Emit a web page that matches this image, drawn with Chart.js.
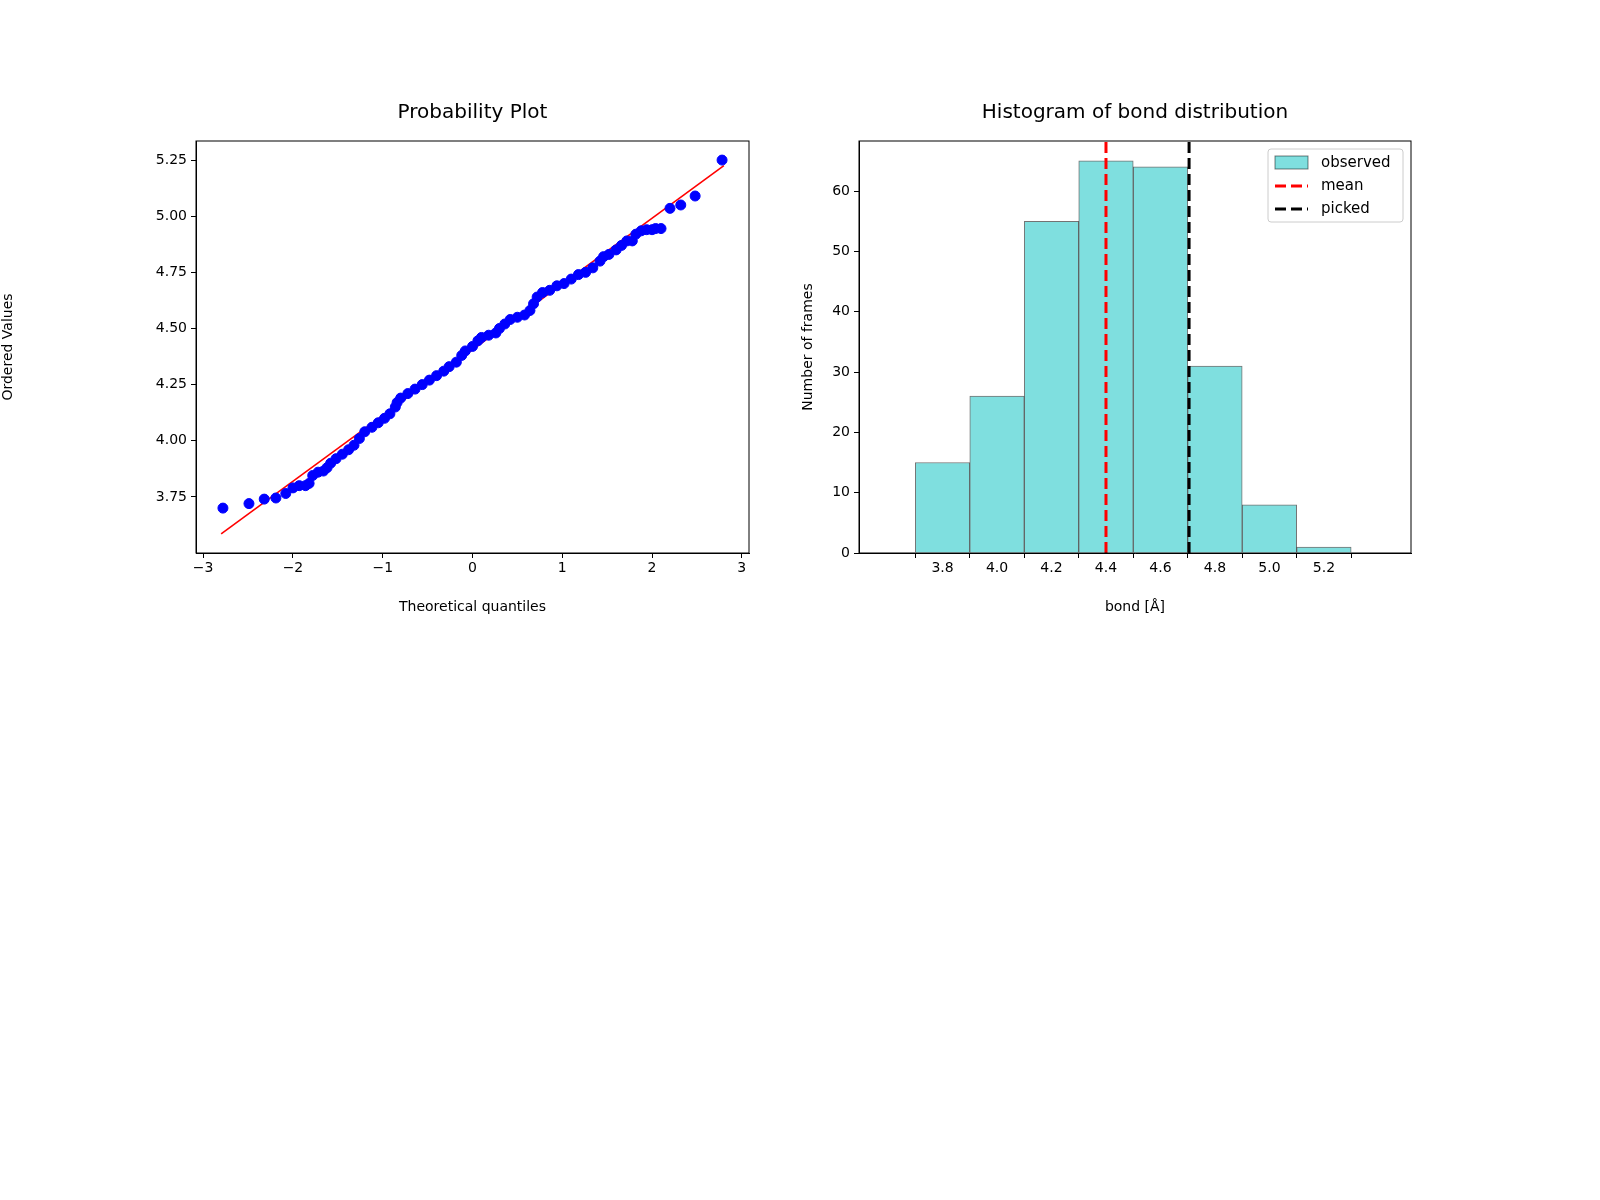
<!DOCTYPE html>
<html>
<head>
<meta charset="utf-8">
<script src="https://cdn.jsdelivr.net/npm/chart.js@4"></script>
<style>
  body { margin: 0; background: #fff; font-family: "DejaVu Sans", sans-serif; }
  .box { position: absolute; top: 0; height: 620px; }
  .ttl { position: absolute; top: 99px; font-size: 20px; color: #000; text-align: center; }
</style>
</head>
<body>
<div class="box" style="left:0;width:800px"><canvas id="qq"></canvas></div>
<div class="box" style="left:800px;width:800px"><canvas id="hist"></canvas></div>
<div class="ttl" style="left:196px;width:553px">Probability Plot</div>
<div class="ttl" style="left:859px;width:552px">Histogram of bond distribution</div>
<script>
// probability plot points: theoretical quantile / ordered value
const qqX = [-2.78,-2.49,-2.32,-2.19,-2.08,-2.0,-1.93,-1.86,-1.82,-1.78,-1.72,-1.66,-1.62,-1.58,-1.52,-1.45,-1.38,-1.32,-1.26,-1.2,-1.12,-1.05,-0.98,-0.92,-0.86,-0.84,-0.8,-0.72,-0.64,-0.56,-0.48,-0.4,-0.32,-0.26,-0.18,-0.12,-0.08,0.0,0.06,0.1,0.18,0.26,0.3,0.36,0.42,0.5,0.58,0.64,0.68,0.72,0.78,0.86,0.94,1.02,1.1,1.18,1.26,1.34,1.42,1.46,1.52,1.6,1.66,1.72,1.78,1.82,1.88,1.94,2.0,2.04,2.1,2.2,2.32,2.48,2.78];
const qqY = [3.70,3.72,3.74,3.745,3.765,3.79,3.80,3.80,3.81,3.845,3.86,3.865,3.88,3.90,3.92,3.94,3.96,3.98,4.01,4.04,4.06,4.08,4.10,4.12,4.15,4.17,4.19,4.21,4.23,4.25,4.27,4.29,4.31,4.33,4.35,4.38,4.40,4.42,4.445,4.46,4.47,4.48,4.50,4.52,4.54,4.55,4.56,4.58,4.61,4.64,4.66,4.67,4.69,4.70,4.72,4.74,4.75,4.77,4.80,4.82,4.83,4.85,4.87,4.89,4.89,4.92,4.935,4.94,4.94,4.945,4.945,5.035,5.05,5.09,5.25];
const fitX = [-2.8, 2.8];
const fitY = [3.585, 5.225];
const qqXTicks = [-3,-2,-1,0,1,2,3];
const qqYTicks = [3.75,4.00,4.25,4.50,4.75,5.00,5.25];

// histogram bins
const binCenters = [3.8,4.0,4.2,4.4,4.6,4.8,5.0,5.2];
const binCounts = [15,26,55,65,64,31,8,1];
const meanBond = 4.40;
const pickedBond = 4.705;
const histXTicks = [3.8,4.0,4.2,4.4,4.6,4.8,5.0,5.2];
const histYTicks = [0,10,20,30,40,50,60];

Chart.defaults.font.family = '"DejaVu Sans", sans-serif';
Chart.defaults.font.size = 14;
Chart.defaults.color = '#000';

const frame = {
    id: 'frame',
    afterDatasetsDraw(chart) {
        const a = chart.chartArea, c = chart.ctx;
        c.save();
        c.strokeStyle = '#000';
        c.lineWidth = 1;
        c.strokeRect(a.left, a.top, a.right - a.left, a.bottom - a.top);
        c.restore();
    }
};

function axes(xmin, xmax, ymin, ymax, xt, yt, xTitle, yTitle, xfmt, yfmt, leftW) {
    const grid = { drawOnChartArea: false, tickLength: 5, color: '#000' };
    return {
        x: {
            type: 'linear', min: xmin, max: xmax,
            grid: grid, border: { color: '#000' },
            afterBuildTicks: ax => { ax.ticks = xt.map(v => ({ value: v })); },
            ticks: { callback: xfmt, maxRotation: 0, padding: 2 },
            title: { display: true, text: xTitle, padding: { top: 0 } },
            afterFit: ax => { ax.height = 67; }
        },
        y: {
            type: 'linear', min: ymin, max: ymax,
            grid: grid, border: { color: '#000' },
            afterBuildTicks: ax => { ax.ticks = yt.map(v => ({ value: v })); },
            ticks: { callback: yfmt, padding: 4 },
            title: { display: true, text: yTitle, padding: 0 },
            afterFit: ax => { ax.width = leftW; }
        }
    };
}

const minus = v => String(v).replace('-', '\u2212');

new Chart(document.getElementById('qq'), {
    type: 'scatter',
    data: {
        datasets: [{
            data: qqX.map((x, i) => ({ x: x, y: qqY[i] })),
            backgroundColor: '#0000ff', borderColor: '#0000ff',
            pointRadius: 5, pointHoverRadius: 5
        }, {
            type: 'line',
            data: fitX.map((x, i) => ({ x: x, y: fitY[i] })),
            borderColor: '#ff0000', borderWidth: 1.6, pointRadius: 0, fill: false
        }]
    },
    options: {
        responsive: true, maintainAspectRatio: false, animation: false,
        layout: { padding: { left: 0, top: 141, right: 51, bottom: 0 } },
        plugins: { legend: { display: false }, tooltip: { enabled: false } },
        scales: axes(-3.08, 3.08, 3.50, 5.335, qqXTicks, qqYTicks,
            'Theoretical quantiles', 'Ordered Values', minus, v => v.toFixed(2), 196)
    },
    plugins: [frame]
});

const histLegend = {
    id: 'histLegend',
    afterDraw(chart) {
        const a = chart.chartArea, c = chart.ctx;
        const x0 = a.right - 143, y0 = a.top + 8, w = 135, h = 73;
        c.save();
        c.fillStyle = 'rgba(255,255,255,0.8)';
        c.strokeStyle = '#cccccc';
        c.lineWidth = 1;
        c.beginPath();
        c.roundRect(x0, y0, w, h, 3);
        c.fill(); c.stroke();
        c.fillStyle = '#7fdfdf';
        c.strokeStyle = 'rgba(0,0,0,0.5)';
        c.fillRect(x0 + 7, y0 + 7, 33, 13);
        c.strokeRect(x0 + 7, y0 + 7, 33, 13);
        c.lineWidth = 3;
        c.setLineDash([11, 5]);
        [['#ff0000', 37], ['#000000', 60]].forEach(([col, dy]) => {
            c.strokeStyle = col;
            c.beginPath();
            c.moveTo(x0 + 7, y0 + dy);
            c.lineTo(x0 + 40, y0 + dy);
            c.stroke();
        });
        c.fillStyle = '#000';
        c.font = '15px "DejaVu Sans", sans-serif';
        c.textBaseline = 'middle';
        c.fillText('observed', x0 + 53, y0 + 14);
        c.fillText('mean', x0 + 53, y0 + 37);
        c.fillText('picked', x0 + 53, y0 + 60);
        c.restore();
    }
};

const histTop = 68.3;
new Chart(document.getElementById('hist'), {
    type: 'bar',
    data: {
        datasets: [{
            data: binCenters.map((x, i) => ({ x: x, y: binCounts[i] })),
            backgroundColor: '#7fdfdf',
            borderColor: 'rgba(0,0,0,0.55)', borderWidth: 1,
            barPercentage: 1, categoryPercentage: 1, order: 2
        }, {
            type: 'line',
            data: [{ x: meanBond, y: 0 }, { x: meanBond, y: histTop }],
            borderColor: '#ff0000', borderWidth: 3, borderDash: [11, 5],
            pointRadius: 0, order: 1
        }, {
            type: 'line',
            data: [{ x: pickedBond, y: 0 }, { x: pickedBond, y: histTop }],
            borderColor: '#000000', borderWidth: 3, borderDash: [11, 5],
            pointRadius: 0, order: 0
        }]
    },
    options: {
        responsive: true, maintainAspectRatio: false, animation: false,
        layout: { padding: { left: 0, top: 141, right: 189, bottom: 0 } },
        plugins: { legend: { display: false }, tooltip: { enabled: false } },
        scales: axes(3.62, 5.393, 0, histTop, histXTicks, histYTicks,
            'bond [Å]', 'Number of frames', v => v.toFixed(1), v => String(v), 59)
    },
    plugins: [frame, histLegend]
});
</script>
</body>
</html>
